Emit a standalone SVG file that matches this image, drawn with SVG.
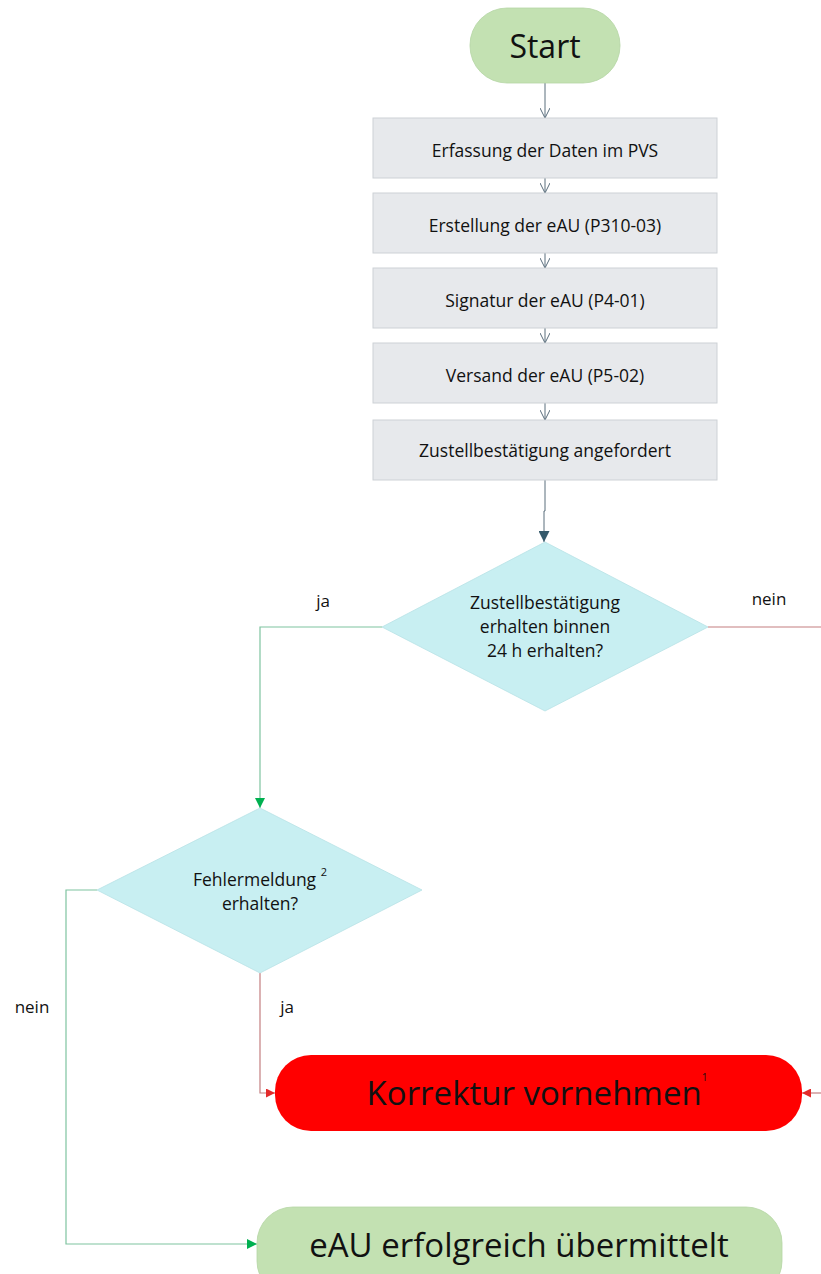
<svg xmlns="http://www.w3.org/2000/svg" width="821" height="1274" viewBox="0 0 821 1274">
<style>
text{font-family:"Open Sans","Liberation Sans",sans-serif;fill:#111;text-anchor:middle}
.box{fill:#E7E9EC;stroke:#cdd1d6;stroke-width:1}
.dia{fill:#C8EFF2;stroke:#b8e2e6;stroke-width:0.8}
.term{fill:#C3E1B2;stroke:#b5d6a4;stroke-width:0.8}
.s{font-size:17.5px}
.big{font-size:33px}
.lbl{font-size:17px}
.gray{stroke:#5a6e7c;stroke-width:1;fill:none}
.grn{stroke:#7fc3a0;stroke-width:1.2;fill:none}
.red{stroke:#c47f80;stroke-width:1.2;fill:none}
</style>
<defs>
<marker id="openV" viewBox="0 0 10 10" refX="10" refY="5" markerWidth="10" markerHeight="10" orient="auto" markerUnits="userSpaceOnUse"><path d="M0,0 L10,5 L0,10" fill="none" stroke="#5a6e7c" stroke-width="1"/></marker>
<marker id="darkT" viewBox="0 0 10 10" refX="10" refY="5" markerWidth="12" markerHeight="11" orient="auto" markerUnits="userSpaceOnUse"><path d="M0,0 L10,5 L0,10 Z" fill="#34596b"/></marker>
<marker id="grnT" viewBox="0 0 10 10" refX="10" refY="5" markerWidth="10" markerHeight="10" orient="auto" markerUnits="userSpaceOnUse"><path d="M0,0 L10,5 L0,10 Z" fill="#00b050"/></marker>
<marker id="redT" viewBox="0 0 10 10" refX="10" refY="5" markerWidth="9" markerHeight="9" orient="auto" markerUnits="userSpaceOnUse"><path d="M0,0 L10,5 L0,10 Z" fill="#e32b2b"/></marker>
</defs>
<g id="connectors">
<line class="gray" x1="545" y1="83" x2="545" y2="118" marker-end="url(#openV)"/>
<line class="gray" x1="545" y1="178" x2="545" y2="193" marker-end="url(#openV)"/>
<line class="gray" x1="545" y1="253" x2="545" y2="268" marker-end="url(#openV)"/>
<line class="gray" x1="545" y1="328" x2="545" y2="343" marker-end="url(#openV)"/>
<line class="gray" x1="545" y1="403" x2="545" y2="420" marker-end="url(#openV)"/>
<polyline class="gray" points="545,480 545,511 544,511 544,542" marker-end="url(#darkT)"/>
<polyline class="grn" points="382,627 260,627 260,808" marker-end="url(#grnT)"/>
<text class="lbl" x="323" y="607">ja</text>
<line class="red" x1="708" y1="627" x2="821" y2="627"/>
<text class="lbl" x="769" y="605">nein</text>
<polyline class="red" points="821,1093 802,1093" marker-end="url(#redT)"/>
<polyline class="red" points="260,973 260,1093 275,1093" marker-end="url(#redT)"/>
<text class="lbl" x="287" y="1013">ja</text>
<text class="lbl" x="32" y="1013">nein</text>
<polyline class="grn" points="97,890 66,890 66,1244 257,1244" marker-end="url(#grnT)"/>
</g>
<g id="start">
<rect class="term" x="470" y="8" width="150" height="75" rx="37"/>
<text x="545" y="58" style="font-size:32px">Start</text>
</g>
<g id="erfassung">
<rect class="box" x="373" y="118" width="344" height="60"/>
<text class="s" x="545" y="157">Erfassung der Daten im PVS</text>
</g>
<g id="erstellung">
<rect class="box" x="373" y="193" width="344" height="60"/>
<text class="s" x="545" y="232">Erstellung der eAU (P310-03)</text>
</g>
<g id="signatur">
<rect class="box" x="373" y="268" width="344" height="60"/>
<text class="s" x="545" y="307">Signatur der eAU (P4-01)</text>
</g>
<g id="versand">
<rect class="box" x="373" y="343" width="344" height="60"/>
<text class="s" x="545" y="382">Versand der eAU (P5-02)</text>
</g>
<g id="zustellung">
<rect class="box" x="373" y="420" width="344" height="60"/>
<text class="s" x="545" y="457">Zustellbestätigung angefordert</text>
</g>
<g id="entscheidung1">
<polygon class="dia" points="545,542 708,627 545,711 382,627"/>
<text class="s" x="545" y="609">Zustellbestätigung</text>
<text class="s" x="545" y="633">erhalten binnen</text>
<text class="s" x="545" y="657">24 h erhalten?</text>
</g>
<g id="entscheidung2">
<polygon class="dia" points="260,808 422,890 260,973 97,890"/>
<text class="s" x="260" y="886">Fehlermeldung <tspan dy="-10" style="font-size:11px">2</tspan></text>
<text class="s" x="260" y="910">erhalten?</text>
</g>
<g id="korrektur">
<rect x="275" y="1055" width="527" height="76" rx="36" fill="#ff0000"/>
<text class="big" x="537" y="1105">Korrektur vornehmen<tspan dy="-24" style="font-size:10px">1</tspan></text>
</g>
<g id="erfolg">
<rect class="term" x="257" y="1207" width="525" height="90" rx="36"/>
<text class="big" x="519" y="1257">eAU erfolgreich übermittelt</text>
</g>
</svg>
